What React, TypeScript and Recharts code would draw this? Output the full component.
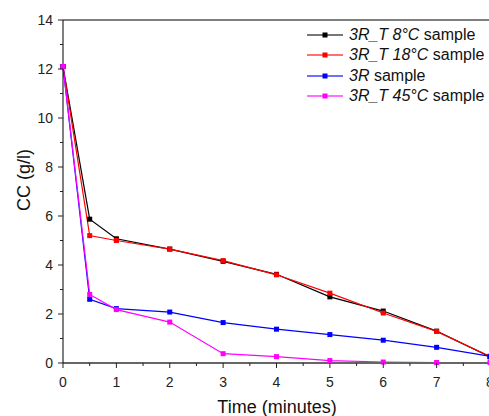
import React from "react";
import { LineChart, Line, XAxis, YAxis, ReferenceLine, Label } from "recharts";

const times = [0, 0.5, 1, 2, 3, 4, 5, 6, 7, 8];
const t8 = [12.1, 5.87, 5.07, 4.65, 4.15, 3.62, 2.7, 2.12, 1.3, 0.25];
const t18 = [12.1, 5.2, 5.0, 4.65, 4.18, 3.6, 2.85, 2.04, 1.29, 0.27];
const base3R = [12.1, 2.6, 2.22, 2.08, 1.65, 1.38, 1.16, 0.93, 0.64, 0.27];
const t45 = [12.1, 2.8, 2.18, 1.67, 0.38, 0.26, 0.1, 0.04, 0.02, 0.02];

const xTicks = [0, 0.5, 1, 1.5, 2, 2.5, 3, 3.5, 4, 4.5, 5, 5.5, 6, 6.5, 7, 7.5, 8];
const yTicks = [0, 1, 2, 3, 4, 5, 6, 7, 8, 9, 10, 11, 12, 13, 14];

const series = [
  { key: "t8", italic: "3R_T 8°C", color: "#000000", legendColor: "#777777" },
  { key: "t18", italic: "3R_T 18°C", color: "#ff0000", legendColor: "#ff7070" },
  { key: "base", italic: "3R", color: "#0000ff", legendColor: "#7070ff" },
  { key: "t45", italic: "3R_T 45°C", color: "#ff00ff", legendColor: "#ff70ff" },
];

const rows = times.map((t, i) => ({ time: t, t8: t8[i], t18: t18[i], base: base3R[i], t45: t45[i] }));

const FONT = "Arial, 'Liberation Sans', sans-serif";

function XTick(props: any) {
  const { x, y, payload } = props;
  const major = Number.isInteger(payload.value);
  return (
    <g>
      <line x1={x} x2={x} y1={y} y2={y + (major ? 5 : 3)} stroke="#222" strokeWidth={1} />
      {major && (
        <text x={x} y={y + 24} textAnchor="middle" fontSize={14} fontFamily={FONT} fill="#222">
          {payload.value}
        </text>
      )}
    </g>
  );
}

function YTick(props: any) {
  const { x, y, payload } = props;
  const major = payload.value % 2 === 0;
  return (
    <g>
      <line x1={x} x2={x - (major ? 5 : 3)} y1={y} y2={y} stroke="#222" strokeWidth={1} />
      {major && (
        <text x={x - 10} y={y + 5} textAnchor="end" fontSize={14} fontFamily={FONT} fill="#222">
          {payload.value}
        </text>
      )}
    </g>
  );
}

function Square(props: any) {
  const { cx, cy, fill } = props;
  if (cx == null || cy == null) return null;
  return <rect x={cx - 2.5} y={cy - 2.5} width={5} height={5} fill={fill} />;
}

function LegendBox() {
  return (
    <div style={{ position: "absolute", top: 25, left: 307, fontFamily: FONT, fontSize: 16, color: "#111" }}>
      {series.map((s) => (
        <div key={s.key} style={{ display: "flex", alignItems: "center", height: 20.3 }}>
          <svg width={42} height={10}>
            <line x1={0} x2={36} y1={5} y2={5} stroke={s.legendColor} strokeWidth={2} />
            <rect x={15.5} y={2.5} width={5} height={5} fill={s.color} />
          </svg>
          <span style={{ whiteSpace: "nowrap" }}>
            <i>{s.italic}</i> sample
          </span>
        </div>
      ))}
    </div>
  );
}

export default function App() {
  return (
    <div style={{ position: "absolute", left: 0, top: 0, width: 489, height: 416, overflow: "hidden", background: "#fff" }}>
      <LineChart width={500} height={416} data={rows} margin={{ top: 20, right: 10, left: 0, bottom: 0 }}>
        <XAxis
          dataKey="time"
          type="number"
          domain={[0, 8]}
          ticks={xTicks}
          interval={0}
          tickSize={0}
          tickMargin={0}
          tick={<XTick />}
          axisLine={{ stroke: "#666", strokeWidth: 2 }}
          height={53}
        >
          <Label
            content={() => (
              <text x={277} y={413} textAnchor="middle" fontSize={18} fontFamily={FONT} fill="#111">
                Time (minutes)
              </text>
            )}
          />
        </XAxis>
        <YAxis
          type="number"
          domain={[0, 14]}
          ticks={yTicks}
          interval={0}
          tickSize={0}
          tickMargin={0}
          tick={<YTick />}
          axisLine={{ stroke: "#000", strokeWidth: 1 }}
          width={63}
        >
          <Label
            content={() => (
              <text
                transform="translate(30,180) rotate(-90)"
                textAnchor="middle"
                fontSize={18}
                fontFamily={FONT}
                fill="#111"
              >
                CC (g/l)
              </text>
            )}
          />
        </YAxis>
        <ReferenceLine y={14} stroke="#000" strokeWidth={1} ifOverflow="extendDomain" />
        {series.map((s) => (
          <Line
            key={s.key}
            dataKey={s.key}
            type="linear"
            stroke={s.color}
            strokeWidth={1.2}
            fill={s.color}
            dot={<Square fill={s.color} />}
            activeDot={false}
            isAnimationActive={false}
          />
        ))}
      </LineChart>
      <LegendBox />
    </div>
  );
}
